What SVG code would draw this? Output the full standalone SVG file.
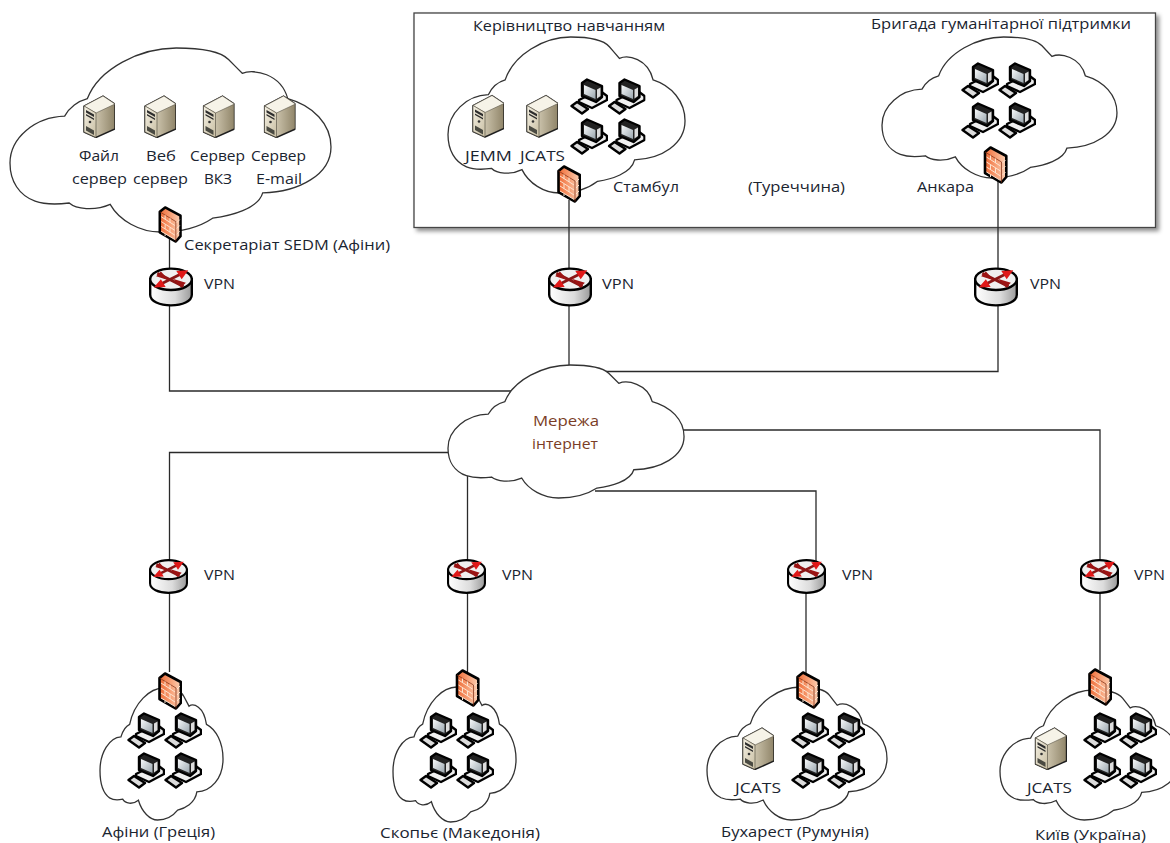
<svg xmlns="http://www.w3.org/2000/svg" xmlns:xlink="http://www.w3.org/1999/xlink" width="1170" height="843" viewBox="0 0 1170 843">
<style>
text{font-family:"Open Sans","Noto Sans","DejaVu Sans",sans-serif;font-size:15px;fill:#1a2430;}
.brown{fill:#7a3d26;}
.cl{fill:#fff;stroke:#333;stroke-width:1.3;vector-effect:non-scaling-stroke;}
.ln{fill:none;stroke:#2a2a2a;stroke-width:1.3;}
.k{stroke:#000;stroke-linejoin:round;}
</style>
<defs>
<filter id="sh" x="-2%" y="-5%" width="104%" height="110%"><feDropShadow dx="3" dy="3" stdDeviation="2" flood-color="#000" flood-opacity=".45"/></filter>
<linearGradient id="sv" x1="0" y1="0" x2="1" y2="0"><stop offset="0" stop-color="#efe8d4"/><stop offset="1" stop-color="#8f8468"/></linearGradient>
<linearGradient id="svf" x1="0" y1="0" x2="1" y2="1"><stop offset="0" stop-color="#f4f0e3"/><stop offset="1" stop-color="#c9bfa3"/></linearGradient>
<linearGradient id="fw" x1="0" y1="0" x2="1" y2="0"><stop offset="0" stop-color="#ee6a35"/><stop offset=".55" stop-color="#f8a37a"/><stop offset="1" stop-color="#fbd0b4"/></linearGradient>
<linearGradient id="scr" x1="0" y1="0" x2="1" y2="1"><stop offset="0" stop-color="#f8fafb"/><stop offset="1" stop-color="#9aa6ae"/></linearGradient>
<linearGradient id="rt" x1="0" y1="0" x2="1" y2="0"><stop offset="0" stop-color="#fff"/><stop offset=".6" stop-color="#dcdcdc"/><stop offset="1" stop-color="#9a9a9a"/></linearGradient>
<path id="cloud" class="cl" d="M225,155C250,90 340,45 420,45C470,45 515,50 535,70C545,80 555,90 565,100C590,90 650,100 665,155C720,170 760,210 760,260C760,320 690,358 610,360C600,395 540,410 500,415C470,435 430,445 385,445C340,445 295,420 275,385C240,400 200,395 185,382C160,385 130,385 110,378C75,365 55,335 55,295C55,240 110,195 175,193C185,175 205,160 225,155Z"/>
<symbol id="server" viewBox="0 0 32 43">
<path d="M1,11L20,1L32,9V34L13,42.5L1,37Z" fill="url(#sv)" stroke="#1f1f1f" stroke-width="1.4" stroke-linejoin="round"/>
<path d="M1,11L20,1L32,9L13,18Z" fill="#f6f3e8" stroke="#5b5648" stroke-width=".6"/>
<path d="M1,11L13,18V42.5L1,37Z" fill="url(#svf)" stroke="#4b473a" stroke-width=".6"/>
<path d="M3,15L11,19.5V22L3,17.5ZM3,19L11,23.5V25L3,20.500Z" fill="#2d2d2d"/>
<circle cx="7" cy="27" r="1.300" fill="#333"/>
<path d="M3,31L11,35.5V40L3,35.5Z" fill="#4a4a42"/>
</symbol>
<symbol id="pc" viewBox="0 0 38 37">
<path class="k" stroke-width="2.400" d="M9,22L29,12L37,18V22L22,30L9,24Z" fill="#f0f0f0"/>
<path class="k" stroke-width="2.400" d="M12,5L17,1.500L32,8V19L26,24L12,18Z" fill="#222"/>
<path d="M14,7L25.500,12V21L14,16Z" fill="url(#scr)"/>
<path d="M27,11.500L30.500,9.500V18L27,20.500Z" fill="#ddd"/>
<path class="k" stroke-width="2.400" d="M1.500,28L7,24L18,31L12,35.500Z" fill="#dcdcdc"/>
</symbol>
<symbol id="fwall" viewBox="0 0 24 38">
<path class="k" stroke-width="2.600" d="M7,1.500L1.500,6V27L18,36.500L22.800,31V10Z" fill="url(#fw)"/>
<path d="M1.500,6L18,16V36.500" fill="none" stroke="#7a2a10" stroke-width=".7"/>
<path d="M3,11L17,20M3,16L17,25M3,21L17,30M3,26L17,34.500M7,9.500V13.500M12,12.500V17M7,19V23.500M12,22V27M7,29V31M19,17L22,14M19,23L22,20M19,29L22,26" fill="none" stroke="#fde4d0" stroke-width="1"/>
</symbol>
<symbol id="router" viewBox="0 0 37 33">
<path d="M1,10V23C1,28.500 9,32 18.500,32S36,28.500 36,23V10Z" fill="url(#rt)" stroke="#000" stroke-width="2"/>
<ellipse cx="18.500" cy="10" rx="17.500" ry="9" fill="#f0f0f0" stroke="#000" stroke-width="2"/>
<path d="M7,5L29,16M8,15L28,5" stroke="#8a1616" stroke-width="2.400" fill="none"/>
<path d="M33,2.500L23,3L27.500,10ZM4,17L14,16.500L10,10Z" fill="#e01818"/>
<path d="M17,11L10,3.500L6,7.500ZM20,9.500L27,17L31,13Z" fill="#9c1414"/>
</symbol>
</defs>

<rect id="box-turkey" x="414" y="13" width="741.500" height="214.500" fill="#fff" stroke="#444" stroke-width="1.300" filter="url(#sh)"/>

<g id="connectors" class="ln">
<path class="ln" d="M169.500,232V391H512"/>
<path class="ln" d="M569,200V368"/>
<path class="ln" d="M998,180V371.500H606"/>
<path class="ln" d="M449,452.500H169.500V672"/>
<path class="ln" d="M467.500,474V672"/>
<path class="ln" d="M595,491H816V562"/>
<path class="ln" d="M806,590V675"/>
<path class="ln" d="M682,430H1100V670"/>
</g>

<g id="cloud-internet"><use href="#cloud" transform="translate(448 365) scale(.3348 .3325) translate(-55 -45)"/><text class="brown" x="533" y="426" textLength="66" lengthAdjust="spacingAndGlyphs">Мережа</text><text class="brown" x="532" y="449" textLength="66" lengthAdjust="spacingAndGlyphs">інтернет</text></g>

<g id="node-secretariat">
<use href="#cloud" transform="translate(10 48) scale(.4553 .46) translate(-55 -45)"/>
<use href="#server" x="83" y="95" width="32" height="43"/>
<use href="#server" x="144" y="95" width="32" height="43"/>
<use href="#server" x="202.500" y="95" width="32" height="43"/>
<use href="#server" x="263.500" y="95" width="32" height="43"/>
<use href="#fwall" x="157" y="206" width="26" height="37"/>
<text x="79" y="161" textLength="40" lengthAdjust="spacingAndGlyphs">Файл</text>
<text x="72" y="184" textLength="55" lengthAdjust="spacingAndGlyphs">сервер</text>
<text x="146" y="161" textLength="30" lengthAdjust="spacingAndGlyphs">Веб</text>
<text x="133" y="184" textLength="55" lengthAdjust="spacingAndGlyphs">сервер</text>
<text x="190" y="161" textLength="55" lengthAdjust="spacingAndGlyphs">Сервер</text>
<text x="204" y="184" textLength="28" lengthAdjust="spacingAndGlyphs">ВКЗ</text>
<text x="251" y="161" textLength="55" lengthAdjust="spacingAndGlyphs">Сервер</text>
<text x="256" y="184" textLength="46" lengthAdjust="spacingAndGlyphs">E-mail</text>
<text x="184" y="250" textLength="206" lengthAdjust="spacingAndGlyphs">Секретаріат SEDM (Афіни)</text>
</g>

<g id="node-istanbul">
<use href="#cloud" transform="translate(448 37) scale(.3362 .39) translate(-55 -45)"/>
<use href="#server" x="472" y="94" width="32" height="44"/>
<use href="#server" x="526" y="94" width="32" height="44"/>
<use href="#pc" x="570" y="78" width="38" height="37"/>
<use href="#pc" x="607.500" y="78" width="38" height="37"/>
<use href="#pc" x="570" y="118" width="38" height="37"/>
<use href="#pc" x="607.500" y="118" width="38" height="37"/>
<use href="#fwall" x="557" y="165" width="24" height="38"/>
<text x="473" y="31" textLength="192" lengthAdjust="spacingAndGlyphs">Керівництво навчанням</text>
<text x="465" y="161" textLength="47" lengthAdjust="spacingAndGlyphs">JEMM</text>
<text x="520" y="161" textLength="45" lengthAdjust="spacingAndGlyphs">JCATS</text>
<text x="613" y="192" textLength="66" lengthAdjust="spacingAndGlyphs">Стамбул</text>
<text x="748" y="192" textLength="97" lengthAdjust="spacingAndGlyphs">(Туреччина)</text>
</g>

<g id="node-ankara">
<use href="#cloud" transform="translate(882 37) scale(.3333 .3525) translate(-55 -45)"/>
<use href="#pc" x="961" y="62" width="38" height="37"/>
<use href="#pc" x="998" y="62" width="38" height="37"/>
<use href="#pc" x="961" y="102" width="38" height="37"/>
<use href="#pc" x="998" y="102" width="38" height="37"/>
<use href="#fwall" x="983" y="146" width="25" height="38"/>
<text x="871" y="29" textLength="260" lengthAdjust="spacingAndGlyphs">Бригада гуманітарної підтримки</text>
<text x="917" y="192" textLength="57" lengthAdjust="spacingAndGlyphs">Анкара</text>
</g>

<g id="node-athens">
<use href="#cloud" transform="translate(100 688) scale(.1745 .33) translate(-55 -45)"/>
<use href="#pc" x="127" y="712" width="38" height="37"/>
<use href="#pc" x="164" y="712" width="38" height="37"/>
<use href="#pc" x="127" y="752" width="38" height="37"/>
<use href="#pc" x="164" y="752" width="38" height="37"/>
<use href="#fwall" x="158" y="672" width="24" height="38"/>
<text x="102" y="837" textLength="113" lengthAdjust="spacingAndGlyphs">Афіни (Греція)</text>
</g>

<g id="node-skopje">
<use href="#cloud" transform="translate(393 687) scale(.1745 .3375) translate(-55 -45)"/>
<use href="#pc" x="419" y="712" width="38" height="37"/>
<use href="#pc" x="456" y="712" width="38" height="37"/>
<use href="#pc" x="419" y="752" width="38" height="37"/>
<use href="#pc" x="456" y="752" width="38" height="37"/>
<use href="#fwall" x="455" y="669" width="25" height="38"/>
<text x="380" y="838" textLength="160" lengthAdjust="spacingAndGlyphs">Скопьє (Македонія)</text>
</g>

<g id="node-bucharest">
<use href="#cloud" transform="translate(707 687) scale(.2553 .3325) translate(-55 -45)"/>
<use href="#server" x="742" y="727" width="32" height="43"/>
<use href="#pc" x="791" y="712" width="38" height="37"/>
<use href="#pc" x="827" y="712" width="38" height="37"/>
<use href="#pc" x="791" y="752" width="38" height="37"/>
<use href="#pc" x="827" y="752" width="38" height="37"/>
<use href="#fwall" x="796" y="671" width="24" height="38"/>
<text x="735" y="793" textLength="46" lengthAdjust="spacingAndGlyphs">JCATS</text>
<text x="721" y="837" textLength="148" lengthAdjust="spacingAndGlyphs">Бухарест (Румунія)</text>
</g>

<g id="node-kyiv">
<use href="#cloud" transform="translate(1000 690) scale(.2553 .325) translate(-55 -45)"/>
<use href="#server" x="1034" y="727" width="33" height="43"/>
<use href="#pc" x="1083" y="712" width="38" height="37"/>
<use href="#pc" x="1119" y="712" width="38" height="37"/>
<use href="#pc" x="1083" y="752" width="38" height="37"/>
<use href="#pc" x="1119" y="752" width="38" height="37"/>
<use href="#fwall" x="1088" y="668" width="24" height="38"/>
<text x="1027" y="793" textLength="45" lengthAdjust="spacingAndGlyphs">JCATS</text>
<text x="1035" y="839.500" textLength="111" lengthAdjust="spacingAndGlyphs">Київ (Україна)</text>
</g>

<g id="router-1"><use href="#router" x="149" y="267" width="44" height="40"/><text x="204" y="289" textLength="31" lengthAdjust="spacingAndGlyphs">VPN</text></g>
<g id="router-2"><use href="#router" x="548" y="267" width="44" height="40"/><text x="602" y="289" textLength="32" lengthAdjust="spacingAndGlyphs">VPN</text></g>
<g id="router-3"><use href="#router" x="974" y="267" width="44" height="40"/><text x="1030" y="289" textLength="31" lengthAdjust="spacingAndGlyphs">VPN</text></g>
<g id="router-4"><use href="#router" x="149" y="559" width="39" height="35"/><text x="204" y="580" textLength="31" lengthAdjust="spacingAndGlyphs">VPN</text></g>
<g id="router-5"><use href="#router" x="447" y="559" width="39" height="35"/><text x="502" y="580" textLength="31" lengthAdjust="spacingAndGlyphs">VPN</text></g>
<g id="router-6"><use href="#router" x="787" y="559" width="39" height="35"/><text x="842" y="580" textLength="31" lengthAdjust="spacingAndGlyphs">VPN</text></g>
<g id="router-7"><use href="#router" x="1080" y="559" width="39" height="35"/><text x="1134" y="580" textLength="31" lengthAdjust="spacingAndGlyphs">VPN</text></g>
</svg>
